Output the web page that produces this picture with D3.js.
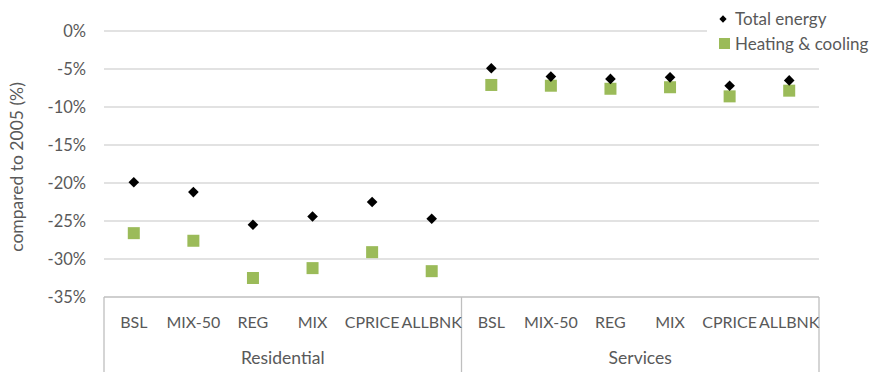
<!DOCTYPE html>
<html>
<head>
<meta charset="utf-8">
<script src="https://cdn.jsdelivr.net/npm/d3@7"></script>
<style>
  body { margin: 0; background: #fff; }
  text { font-family: Lato, "Open Sans", sans-serif; fill: #595959; }
</style>
</head>
<body>
<svg id="chart" width="885" height="372"></svg>
<script>
// data
var groups = ['Residential', 'Services'];
var scenarios = ['BSL', 'MIX-50', 'REG', 'MIX', 'CPRICE', 'ALLBNK'];
var totalEnergy = [-19.9, -21.2, -25.5, -24.4, -22.5, -24.7, -4.9, -6.0, -6.3, -6.1, -7.2, -6.5];
var heatingCooling = [-26.6, -27.6, -32.5, -31.2, -29.1, -31.6, -7.1, -7.2, -7.6, -7.4, -8.6, -7.85];
var yTicks = [0, -5, -10, -15, -20, -25, -30, -35];

(function() {
	'use strict';

	var svg = d3.select('#chart');
	var pLeft = 104, pRight = 819, pTop = 31, pBottom = 297;

	var cats = [];
	groups.forEach(function(g) {
		scenarios.forEach(function(s) { cats.push(g + '|' + s); });
	});

	var x = d3.scaleBand().domain(cats).range([pLeft, pRight]);
	var y = d3.scaleLinear().domain([-35, 0]).range([pBottom, pTop]);

	// gridlines
	svg.append('g').selectAll('line')
		.data(yTicks.filter(function(t) { return t > -35; }))
		.enter().append('line')
		.attr('x1', pLeft).attr('x2', pRight)
		.attr('y1', function(d) { return y(d); }).attr('y2', function(d) { return y(d); })
		.attr('stroke', '#d9d9d9').attr('stroke-width', 1.3);

	// y tick labels
	svg.append('g').selectAll('text')
		.data(yTicks)
		.enter().append('text')
		.attr('x', 86).attr('y', function(d) { return y(d); })
		.attr('dy', '0.35em')
		.attr('text-anchor', 'end')
		.style('font-size', '16.5px')
		.text(function(d) { return d + '%'; });

	// y title
	svg.append('text')
		.attr('transform', 'translate(23,' + ((pTop + pBottom) / 2 + 3) + ') rotate(-90)')
		.attr('text-anchor', 'middle')
		.style('font-size', '17.5px')
		.text('compared to 2005 (%)');

	// category axis
	var axis = svg.append('g').attr('stroke', '#bfbfbf').attr('stroke-width', 1.3);
	axis.append('line').attr('x1', pLeft).attr('x2', pRight).attr('y1', pBottom).attr('y2', pBottom);
	var seps = [pLeft, x(groups[1] + '|' + scenarios[0]), pRight];
	axis.selectAll('.sep').data(seps).enter().append('line')
		.attr('x1', function(d) { return d; }).attr('x2', function(d) { return d; })
		.attr('y1', pBottom).attr('y2', 372);

	svg.append('g').selectAll('text')
		.data(cats)
		.enter().append('text')
		.attr('x', function(d) { return x(d) + x.bandwidth() / 2; })
		.attr('y', 328)
		.attr('text-anchor', 'middle')
		.style('font-size', '16px')
		.text(function(d) { return d.split('|')[1]; });

	svg.append('g').selectAll('text')
		.data(groups)
		.enter().append('text')
		.attr('x', function(d) {
			var xs = scenarios.map(function(s) { return x(d + '|' + s); });
			return (d3.min(xs) + d3.max(xs) + x.bandwidth()) / 2;
		})
		.attr('y', 364)
		.attr('text-anchor', 'middle')
		.style('font-size', '17.5px')
		.text(function(d) { return d; });

	// heating & cooling squares
	var sq = 12;
	svg.append('g').selectAll('rect')
		.data(heatingCooling)
		.enter().append('rect')
		.attr('x', function(d, i) { return x(cats[i]) + x.bandwidth() / 2 - sq / 2; })
		.attr('y', function(d) { return y(d) - sq / 2; })
		.attr('width', sq).attr('height', sq)
		.attr('fill', '#9bbb59');

	// total energy diamonds
	var diamond = d3.symbol().type(d3.symbolDiamond2).size(72);
	svg.append('g').selectAll('path')
		.data(totalEnergy)
		.enter().append('path')
		.attr('d', diamond)
		.attr('transform', function(d, i) {
			return 'translate(' + (x(cats[i]) + x.bandwidth() / 2) + ',' + y(d) + ')';
		})
		.attr('fill', '#000');

	// legend
	var legend = svg.append('g');
	legend.append('rect').attr('x', 707).attr('y', 4).attr('width', 178).attr('height', 54).attr('fill', '#fff');
	legend.append('path').attr('d', d3.symbol().type(d3.symbolDiamond2).size(34))
		.attr('transform', 'translate(723,19)').attr('fill', '#000');
	legend.append('text').attr('x', 735).attr('y', 19).attr('dy', '0.35em')
		.style('font-size', '17px').text('Total energy');
	legend.append('rect').attr('x', 719).attr('y', 38).attr('width', 11).attr('height', 11).attr('fill', '#9bbb59');
	legend.append('text').attr('x', 735).attr('y', 44).attr('dy', '0.35em')
		.style('font-size', '17px').text('Heating & cooling');
})();
</script>
</body>
</html>
